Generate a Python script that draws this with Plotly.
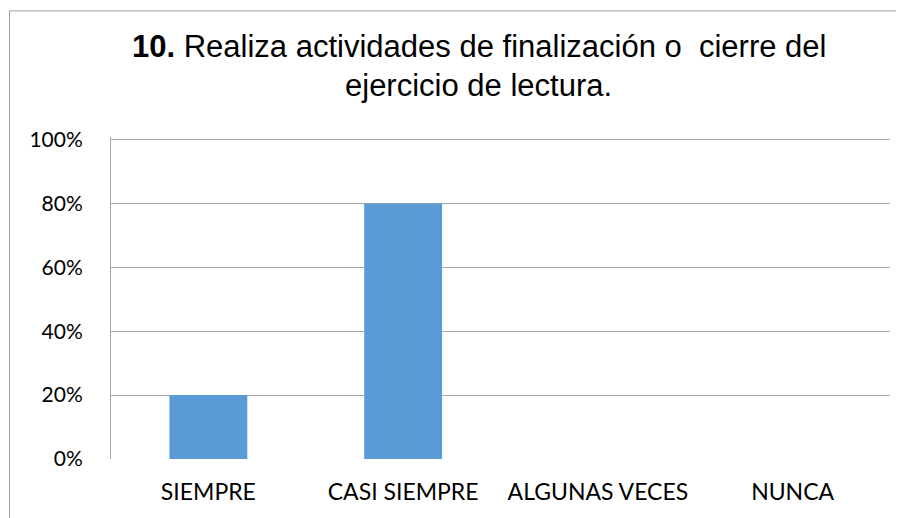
import plotly.graph_objects as go

categories = ["SIEMPRE", "CASI SIEMPRE", "ALGUNAS VECES", "NUNCA"]
values = [0.20, 0.80, 0.0, 0.0]
y_ticks = [0, 0.2, 0.4, 0.6, 0.8, 1.0]
y_tick_labels = ["0%", "20%", "40%", "60%", "80%", "100%"]
title_line1 = "<b>10.</b> Realiza actividades de finalización o  cierre del"
title_line2 = "ejercicio de lectura."

W, H = 904, 518
OFF = 8  # default page body margin
YMAX = 1.008
# screen pixels: 0% at y=459, 100% at y=140
Y0PX, Y100PX = 459, 140
SX0, SX1 = 111, 890
SY1 = Y0PX
SY0 = Y0PX - (Y0PX - Y100PX) * YMAX
L = SX0 - OFF
R = W - (SX1 - OFF)
T = SY0 - OFF
B = H - (SY1 - OFF)
pw, ph = SX1 - SX0, SY1 - SY0

def px_x(x):
    return (x - SX0) / pw

def px_y(y):
    return (SY1 - y) / ph

fig = go.Figure()
fig.add_trace(go.Bar(x=categories, y=values, marker=dict(color="#5b9bd5", line=dict(width=0))))

fig.update_layout(
    width=W, height=H,
    margin=dict(l=L, r=R, t=T, b=B),
    paper_bgcolor="white", plot_bgcolor="white",
    bargap=0.6,
    showlegend=False,
    font=dict(family="Liberation Sans, Arial, sans-serif", color="#000000"),
)
fig.update_xaxes(
    showgrid=False, showline=False, zeroline=False,
    tickfont=dict(family="Lato, Carlito, sans-serif", size=23, color="#000000"),
    ticklabelstandoff=17,
)
fig.update_yaxes(
    range=[0, YMAX], tickvals=y_ticks, ticktext=y_tick_labels,
    showgrid=True, gridcolor="#a6a6a6", gridwidth=1,
    showline=True, linecolor="#a6a6a6", linewidth=1,
    zeroline=False,
    tickfont=dict(family="Lato, Carlito, sans-serif", size=21, color="#000000"),
    ticklabelstandoff=23,
)

fig.add_annotation(text=title_line1, xref="paper", yref="paper",
                   x=px_x(478.5), y=px_y(47), xanchor="center", yanchor="middle",
                   showarrow=False, font=dict(size=31, family="Liberation Sans, Arial, sans-serif", color="#000000"))
fig.add_annotation(text=title_line2, xref="paper", yref="paper",
                   x=px_x(478.5), y=px_y(86), xanchor="center", yanchor="middle",
                   showarrow=False, font=dict(size=31, family="Liberation Sans, Arial, sans-serif", color="#000000"))

fig.add_shape(type="rect", xref="paper", yref="paper",
              x0=px_x(9.5), y0=px_y(580), x1=px_x(980), y1=px_y(11.5),
              line=dict(color="#a0a0a0", width=1), fillcolor="rgba(0,0,0,0)", layer="below")

fig.write_html("out.html")
